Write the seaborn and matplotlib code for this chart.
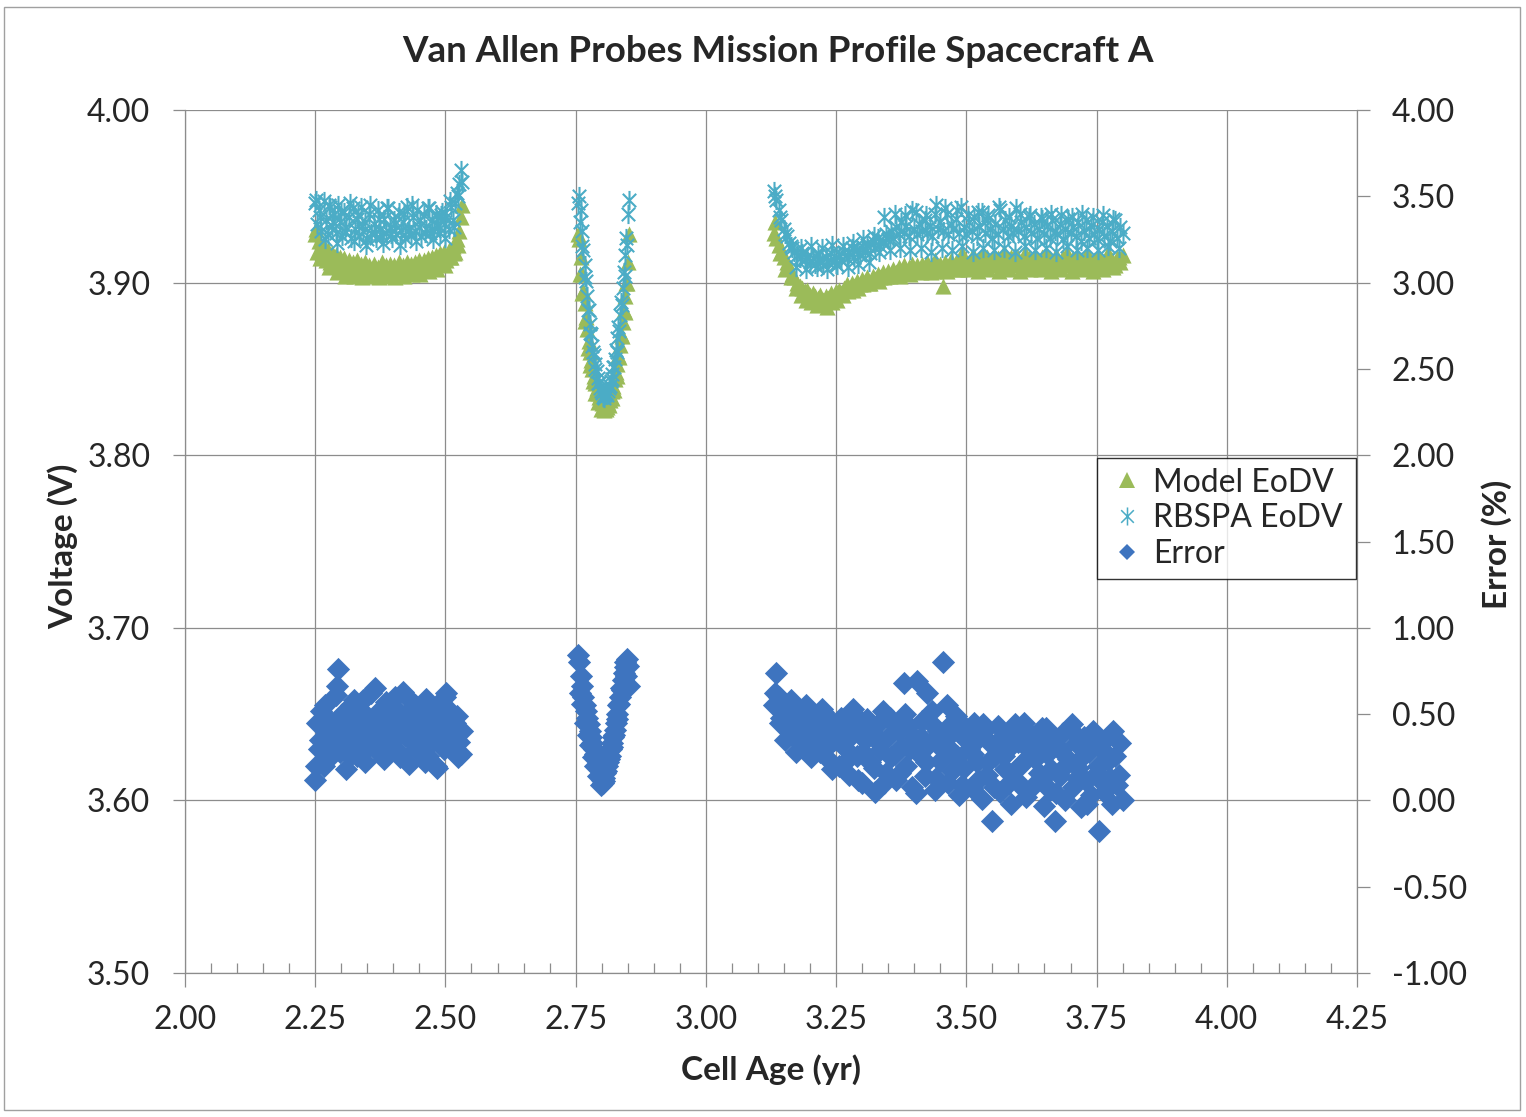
import matplotlib
matplotlib.use("Agg")
import matplotlib.pyplot as plt
from matplotlib.path import Path
from matplotlib.patches import Rectangle
from matplotlib.lines import Line2D
from matplotlib.ticker import MultipleLocator, FormatStrFormatter
import pandas as pd
import seaborn as sns

# ---- data read off the chart: cell age (yr), model / measured EoDV (V), error (%)
# first block, ~2.25-2.53 yr
age_seg1 = [2.250, 2.254, 2.258, 2.262, 2.266, 2.270, 2.274, 2.278, 2.282, 2.286,
            2.290, 2.294, 2.298, 2.302, 2.306, 2.310, 2.314, 2.318, 2.322, 2.326,
            2.330, 2.334, 2.338, 2.342, 2.346, 2.350, 2.354, 2.358, 2.362, 2.366,
            2.370, 2.374, 2.378, 2.382, 2.386, 2.390, 2.394, 2.398, 2.402, 2.406,
            2.410, 2.414, 2.418, 2.422, 2.426, 2.430, 2.434, 2.438, 2.442, 2.446,
            2.450, 2.454, 2.458, 2.462, 2.466, 2.470, 2.474, 2.478, 2.482, 2.486,
            2.490, 2.494, 2.498, 2.502, 2.506, 2.510, 2.514, 2.518, 2.522, 2.526,
            2.530]
model_seg1 = [3.928, 3.918, 3.924, 3.915, 3.921, 3.913, 3.919, 3.912, 3.917, 3.911,
              3.916, 3.910, 3.915, 3.909, 3.914, 3.908, 3.913, 3.907, 3.912, 3.907,
              3.913, 3.906, 3.911, 3.906, 3.912, 3.905, 3.910, 3.906, 3.911, 3.905,
              3.909, 3.906, 3.912, 3.905, 3.910, 3.906, 3.911, 3.905, 3.910, 3.906,
              3.912, 3.906, 3.910, 3.907, 3.912, 3.906, 3.911, 3.907, 3.912, 3.907,
              3.913, 3.908, 3.913, 3.909, 3.914, 3.909, 3.915, 3.910, 3.916, 3.911,
              3.917, 3.912, 3.918, 3.913, 3.919, 3.915, 3.921, 3.918, 3.925, 3.930,
              3.938]
rbspa_seg1 = [3.946, 3.934, 3.942, 3.930, 3.947, 3.936, 3.928, 3.944, 3.933, 3.940,
              3.929, 3.945, 3.935, 3.927, 3.941, 3.932, 3.938, 3.926, 3.943, 3.931,
              3.937, 3.927, 3.944, 3.930, 3.935, 3.925, 3.940, 3.929, 3.934, 3.926,
              3.942, 3.931, 3.927, 3.937, 3.929, 3.943, 3.932, 3.926, 3.936, 3.928,
              3.941, 3.930, 3.935, 3.926, 3.944, 3.931, 3.928, 3.938, 3.930, 3.942,
              3.932, 3.927, 3.939, 3.931, 3.943, 3.929, 3.936, 3.930, 3.940, 3.933,
              3.929, 3.941, 3.934, 3.938, 3.931, 3.944, 3.936, 3.946, 3.952, 3.957,
              3.965]
error_seg1 = [0.12, 0.45, 0.30, 0.52, 0.20, 0.38, 0.47, 0.25, 0.41, 0.33,
              0.61, 0.76, 0.28, 0.50, 0.36, 0.18, 0.44, 0.55, 0.31, 0.42,
              0.26, 0.49, 0.37, 0.58, 0.22, 0.45, 0.34, 0.62, 0.40, 0.29,
              0.51, 0.35, 0.46, 0.24, 0.57, 0.39, 0.30, 0.48, 0.37, 0.53,
              0.43, 0.27, 0.63, 0.38, 0.50, 0.21, 0.45, 0.34, 0.55, 0.40,
              0.31, 0.48, 0.37, 0.59, 0.26, 0.44, 0.52, 0.35, 0.20, 0.47,
              0.39, 0.56, 0.30, 0.62, 0.43, 0.51, 0.36, 0.45, 0.49, 0.34,
              0.27]
# second discharge of each day in the first block
age_seg1b = [2.252, 2.260, 2.268, 2.276, 2.284, 2.292, 2.300, 2.308, 2.316, 2.324,
             2.332, 2.340, 2.348, 2.356, 2.364, 2.372, 2.380, 2.388, 2.396, 2.404,
             2.412, 2.420, 2.428, 2.436, 2.444, 2.452, 2.460, 2.468, 2.476, 2.484,
             2.492, 2.500, 2.508, 2.516, 2.524, 2.532]
model_seg1b = [3.931, 3.914, 3.920, 3.909, 3.916, 3.906, 3.912, 3.904, 3.910, 3.904,
               3.909, 3.903, 3.908, 3.904, 3.909, 3.903, 3.908, 3.904, 3.909, 3.903,
               3.908, 3.904, 3.909, 3.905, 3.910, 3.905, 3.911, 3.907, 3.912, 3.908,
               3.914, 3.910, 3.915, 3.917, 3.922, 3.945]
rbspa_seg1b = [3.948, 3.938, 3.925, 3.945, 3.935, 3.923, 3.941, 3.930, 3.946, 3.924,
               3.939, 3.933, 3.922, 3.945, 3.929, 3.937, 3.923, 3.943, 3.928, 3.934,
               3.922, 3.940, 3.930, 3.945, 3.924, 3.936, 3.929, 3.943, 3.925, 3.934,
               3.939, 3.926, 3.947, 3.932, 3.950, 3.958]
error_seg1b = [0.20, 0.35, 0.55, 0.28, 0.43, 0.66, 0.32, 0.48, 0.26, 0.58,
               0.35, 0.52, 0.30, 0.45, 0.65, 0.28, 0.42, 0.54, 0.33, 0.60,
               0.25, 0.47, 0.36, 0.57, 0.30, 0.42, 0.22, 0.53, 0.46, 0.19,
               0.38, 0.60, 0.33, 0.48, 0.25, 0.40]

# second block, the V around 2.80 yr
age_seg2 = [2.757, 2.760, 2.762, 2.765, 2.767, 2.770, 2.772, 2.775, 2.777, 2.780,
            2.782, 2.785, 2.787, 2.790, 2.792, 2.795, 2.797, 2.800, 2.802, 2.805,
            2.807, 2.810, 2.812, 2.815, 2.817, 2.820, 2.822, 2.825, 2.827, 2.830,
            2.832, 2.835, 2.837, 2.840, 2.842, 2.845, 2.847, 2.850, 2.852]
model_seg2 = [3.925, 3.915, 3.905, 3.895, 3.888, 3.880, 3.873, 3.866, 3.860, 3.855,
              3.850, 3.846, 3.842, 3.839, 3.836, 3.834, 3.832, 3.830, 3.828, 3.828,
              3.829, 3.828, 3.830, 3.832, 3.834, 3.837, 3.840, 3.844, 3.848, 3.853,
              3.858, 3.864, 3.870, 3.877, 3.884, 3.892, 3.900, 3.912, 3.928]
rbspa_seg2 = [3.950, 3.942, 3.930, 3.919, 3.910, 3.901, 3.892, 3.884, 3.876, 3.870,
              3.863, 3.858, 3.853, 3.849, 3.845, 3.842, 3.839, 3.836, 3.834, 3.833,
              3.835, 3.835, 3.837, 3.840, 3.843, 3.847, 3.851, 3.856, 3.861, 3.868,
              3.874, 3.881, 3.889, 3.897, 3.906, 3.916, 3.926, 3.940, 3.948]
error_seg2 = [0.80, 0.72, 0.66, 0.60, 0.55, 0.52, 0.48, 0.44, 0.40, 0.37,
              0.33, 0.30, 0.27, 0.24, 0.21, 0.18, 0.15, 0.12, 0.10, 0.13,
              0.16, 0.20, 0.22, 0.26, 0.30, 0.33, 0.37, 0.41, 0.45, 0.50,
              0.55, 0.60, 0.65, 0.70, 0.74, 0.80, 0.72, 0.78, 0.66]
age_seg2b = [2.755, 2.759, 2.763, 2.768, 2.773, 2.778, 2.783, 2.788, 2.793, 2.798,
             2.804, 2.809, 2.814, 2.819, 2.824, 2.829, 2.834, 2.839, 2.844, 2.849]
model_seg2b = [3.928, 3.905, 3.894, 3.878, 3.862, 3.852, 3.843, 3.836, 3.831, 3.827,
               3.826, 3.827, 3.829, 3.833, 3.838, 3.846, 3.857, 3.869, 3.883, 3.900]
rbspa_seg2b = [3.946, 3.935, 3.921, 3.903, 3.884, 3.871, 3.860, 3.850, 3.842, 3.837,
               3.835, 3.836, 3.839, 3.844, 3.851, 3.860, 3.872, 3.887, 3.904, 3.922]
error_seg2b = [0.84, 0.62, 0.56, 0.45, 0.38, 0.32, 0.25, 0.20, 0.14, 0.09,
               0.11, 0.17, 0.24, 0.31, 0.38, 0.47, 0.56, 0.64, 0.77, 0.82]

# third block, ~3.13-3.80 yr
age_seg3 = [3.130, 3.135, 3.140, 3.145, 3.150,
            3.155, 3.160, 3.165, 3.170, 3.175, 3.180, 3.185, 3.190, 3.195, 3.200,
            3.205, 3.210, 3.215, 3.220, 3.225, 3.230, 3.235, 3.240, 3.245, 3.250,
            3.255, 3.260, 3.265, 3.270, 3.275, 3.280, 3.285, 3.290, 3.295, 3.300,
            3.305, 3.310, 3.315, 3.320, 3.325, 3.330, 3.335, 3.340, 3.345, 3.350,
            3.355, 3.360, 3.365, 3.370, 3.375, 3.380, 3.385, 3.390, 3.395, 3.400,
            3.405, 3.410, 3.415, 3.420, 3.425, 3.430, 3.435, 3.440, 3.445, 3.450,
            3.455, 3.460, 3.465, 3.470, 3.475, 3.480, 3.485, 3.490, 3.495, 3.500,
            3.505, 3.510, 3.515, 3.520, 3.525, 3.530, 3.535, 3.540, 3.545, 3.550,
            3.555, 3.560, 3.565, 3.570, 3.575, 3.580, 3.585, 3.590, 3.595, 3.600,
            3.605, 3.610, 3.615, 3.620, 3.625, 3.630, 3.635, 3.640, 3.645, 3.650,
            3.655, 3.660, 3.665, 3.670, 3.675, 3.680, 3.685, 3.690, 3.695, 3.700,
            3.705, 3.710, 3.715, 3.720, 3.725, 3.730, 3.735, 3.740, 3.745, 3.750,
            3.755, 3.760, 3.765, 3.770, 3.775, 3.780, 3.785, 3.790, 3.795, 3.800]
model_seg3 = [3.929, 3.926, 3.922, 3.918, 3.915,
              3.912, 3.909, 3.905, 3.903, 3.900, 3.898, 3.897, 3.895, 3.896, 3.893,
              3.894, 3.892, 3.891, 3.893, 3.890, 3.892, 3.891, 3.894, 3.892, 3.895,
              3.896, 3.894, 3.897, 3.899, 3.897, 3.900, 3.898, 3.901, 3.899, 3.902,
              3.901, 3.903, 3.900, 3.904, 3.902, 3.905, 3.903, 3.906, 3.904, 3.907,
              3.905, 3.908, 3.906, 3.909, 3.907, 3.910, 3.906, 3.909, 3.911, 3.908,
              3.910, 3.907, 3.911, 3.909, 3.912, 3.908, 3.910, 3.913, 3.909, 3.911,
              3.898, 3.912, 3.909, 3.913, 3.910, 3.912, 3.908, 3.914, 3.911, 3.909,
              3.912, 3.910, 3.914, 3.911, 3.913, 3.909, 3.912, 3.915, 3.911, 3.913,
              3.910, 3.914, 3.912, 3.909, 3.913, 3.911, 3.915, 3.912, 3.910, 3.914,
              3.911, 3.913, 3.910, 3.914, 3.912, 3.909, 3.913, 3.911, 3.915, 3.912,
              3.910, 3.914, 3.911, 3.913, 3.909, 3.912, 3.915, 3.911, 3.913, 3.910,
              3.914, 3.912, 3.910, 3.913, 3.911, 3.915, 3.912, 3.909, 3.913, 3.911,
              3.914, 3.910, 3.912, 3.915, 3.911, 3.913, 3.910, 3.914, 3.912, 3.916]
rbspa_seg3 = [3.953, 3.948, 3.942, 3.936, 3.931,
              3.927, 3.923, 3.920, 3.918, 3.916, 3.914, 3.917, 3.913, 3.915, 3.912,
              3.914, 3.911, 3.916, 3.913, 3.910, 3.915, 3.912, 3.917, 3.913, 3.911,
              3.916, 3.913, 3.918, 3.914, 3.917, 3.920, 3.915, 3.919, 3.916, 3.921,
              3.918, 3.922, 3.917, 3.924, 3.920, 3.926, 3.921, 3.924, 3.928, 3.925,
              3.930, 3.926, 3.932, 3.928, 3.935, 3.929, 3.933, 3.927, 3.942, 3.931,
              3.928, 3.934, 3.930, 3.936, 3.929, 3.933, 3.927, 3.940, 3.931, 3.935,
              3.930, 3.943, 3.928, 3.934, 3.931, 3.937, 3.929, 3.944, 3.932, 3.928,
              3.935, 3.930, 3.938, 3.927, 3.933, 3.941, 3.929, 3.936, 3.931, 3.926,
              3.934, 3.928, 3.942, 3.931, 3.936, 3.927, 3.933, 3.929, 3.943, 3.930,
              3.935, 3.927, 3.932, 3.938, 3.929, 3.934, 3.926, 3.931, 3.937, 3.928,
              3.933, 3.926, 3.936, 3.930, 3.928, 3.934, 3.925, 3.931, 3.937, 3.929,
              3.932, 3.927, 3.935, 3.924, 3.930, 3.936, 3.926, 3.933, 3.928, 3.925,
              3.931, 3.935, 3.927, 3.933, 3.924, 3.930, 3.936, 3.926, 3.932, 3.929]
error_seg3 = [0.55, 0.74, 0.60, 0.48, 0.56,
              0.42, 0.53, 0.38, 0.50, 0.45, 0.33, 0.52, 0.40, 0.47, 0.30,
              0.49, 0.36, 0.44, 0.28, 0.51, 0.39, 0.24, 0.46, 0.35, 0.42,
              0.20, 0.48, 0.31, 0.43, 0.15, 0.38, 0.50, 0.26, 0.41, 0.10,
              0.35, 0.47, 0.22, 0.39, 0.05, 0.44, 0.29, 0.52, 0.16, 0.37,
              0.25, 0.45, 0.12, 0.40, 0.31, 0.68, 0.20, 0.43, 0.08, 0.36,
              0.69, 0.27, 0.46, 0.14, 0.62, 0.33, 0.52, 0.06, 0.40, 0.23,
              0.80, 0.35, 0.10, 0.44, 0.28, 0.49, 0.03, 0.38, 0.19, 0.42,
              0.30, 0.07, 0.45, 0.22, 0.36, 0.01, 0.41, 0.15, 0.33, -0.12,
              0.26, 0.43, 0.05, 0.37, 0.18, 0.30, -0.02, 0.40, 0.12, 0.34,
              0.21, 0.45, 0.02, 0.29, 0.38, 0.09, 0.33, 0.16, 0.42, -0.03,
              0.27, 0.06, 0.36, -0.12, 0.31, 0.14, 0.39, 0.00, 0.24, 0.41,
              0.08, 0.33, 0.19, -0.04, 0.37, 0.11, 0.28, 0.03, 0.35, 0.16,
              -0.18, 0.30, 0.05, 0.36, 0.13, -0.02, 0.26, 0.09, 0.33, 0.00]
age_seg3b = [3.1325, 3.1425, 3.1525, 3.1625, 3.1725, 3.1825, 3.1925, 3.2025, 3.2125, 3.2225,
             3.2325, 3.2425, 3.2525, 3.2625, 3.2725, 3.2825, 3.2925, 3.3025, 3.3125, 3.3225,
             3.3325, 3.3425, 3.3525, 3.3625, 3.3725, 3.3825, 3.3925, 3.4025, 3.4125, 3.4225,
             3.4325, 3.4425, 3.4525, 3.4625, 3.4725, 3.4825, 3.4925, 3.5025, 3.5125, 3.5225,
             3.5325, 3.5425, 3.5525, 3.5625, 3.5725, 3.5825, 3.5925, 3.6025, 3.6125, 3.6225,
             3.6325, 3.6425, 3.6525, 3.6625, 3.6725, 3.6825, 3.6925, 3.7025, 3.7125, 3.7225,
             3.7325, 3.7425, 3.7525, 3.7625, 3.7725, 3.7825, 3.7925]
model_seg3b = [3.935, 3.917, 3.908, 3.903, 3.897, 3.893, 3.890, 3.889, 3.887, 3.888,
               3.886, 3.889, 3.890, 3.893, 3.895, 3.896, 3.897, 3.899, 3.900, 3.902,
               3.901, 3.903, 3.904, 3.905, 3.904, 3.906, 3.905, 3.907, 3.906, 3.908,
               3.906, 3.907, 3.908, 3.907, 3.909, 3.908, 3.917, 3.908, 3.916, 3.907,
               3.917, 3.908, 3.916, 3.907, 3.918, 3.908, 3.916, 3.907, 3.917, 3.908,
               3.916, 3.908, 3.917, 3.907, 3.916, 3.908, 3.917, 3.907, 3.916, 3.908,
               3.917, 3.907, 3.916, 3.908, 3.917, 3.909, 3.915]
rbspa_seg3b = [3.950, 3.938, 3.928, 3.921, 3.909, 3.920, 3.908, 3.921, 3.909, 3.920,
               3.908, 3.922, 3.910, 3.921, 3.909, 3.923, 3.911, 3.925, 3.912, 3.927,
               3.918, 3.938, 3.919, 3.940, 3.920, 3.939, 3.919, 3.941, 3.920, 3.939,
               3.918, 3.945, 3.920, 3.940, 3.919, 3.942, 3.921, 3.939, 3.918, 3.941,
               3.920, 3.939, 3.919, 3.944, 3.920, 3.938, 3.918, 3.940, 3.921, 3.939,
               3.919, 3.938, 3.920, 3.940, 3.918, 3.939, 3.921, 3.938, 3.919, 3.940,
               3.920, 3.938, 3.919, 3.939, 3.921, 3.937, 3.920]
error_seg3b = [0.62, 0.45, 0.35, 0.58, 0.28, 0.44, 0.55, 0.25, 0.40, 0.53,
               0.31, 0.18, 0.45, 0.33, 0.24, 0.53, 0.12, 0.28, 0.44, 0.19,
               0.33, 0.10, 0.48, 0.27, 0.16, 0.50, 0.30, 0.04, 0.37, 0.22,
               0.45, 0.13, 0.30, 0.55, 0.17, 0.26, 0.09, 0.40, 0.27, 0.12,
               0.44, 0.22, 0.08, 0.35, 0.26, 0.10, 0.44, 0.20, 0.06, 0.31,
               0.24, 0.12, 0.42, 0.18, 0.04, 0.29, 0.21, 0.44, 0.13, 0.25,
               -0.02, 0.40, 0.20, 0.10, 0.23, 0.40, 0.15]

df = pd.DataFrame({
    'age': age_seg1 + age_seg1b + age_seg2 + age_seg2b + age_seg3 + age_seg3b,
    'model': model_seg1 + model_seg1b + model_seg2 + model_seg2b + model_seg3 + model_seg3b,
    'rbspa': rbspa_seg1 + rbspa_seg1b + rbspa_seg2 + rbspa_seg2b + rbspa_seg3 + rbspa_seg3b,
    'error': error_seg1 + error_seg1b + error_seg2 + error_seg2b + error_seg3 + error_seg3b,
})

green = '#9BBB59'
cyan = '#4BACC6'
blue = '#3E74BF'
grid_col = '#8c8c8c'

sns.set_style('white')
plt.rcParams['font.family'] = ['Lato', 'DejaVu Sans']
plt.rcParams['axes.unicode_minus'] = False

# asterisk marker like excel's (x plus vertical bar)
star = Path([(0, -1), (0, 1), (-0.7, -0.7), (0.7, 0.7), (-0.7, 0.7), (0.7, -0.7)],
            [Path.MOVETO, Path.LINETO] * 3)

fig = plt.figure(figsize=(15.26, 11.17), dpi=100)
ax = fig.add_axes([185/1526, 1-973/1117, (1357-185)/1526, (973-110)/1117])
ax2 = ax.twinx()

sns.scatterplot(data=df, x='age', y='model', ax=ax, marker='^', color=green,
                s=135, linewidth=0, edgecolor=green, zorder=3)
sns.scatterplot(data=df, x='age', y='rbspa', ax=ax, marker=star, color=cyan,
                s=190, linewidth=1.5, edgecolor=cyan, zorder=4)
sns.scatterplot(data=df, x='age', y='error', ax=ax2, marker='D', color=blue,
                s=140, linewidth=0, edgecolor=blue, zorder=3)

ax.set_xlim(2.0, 4.25)
ax.set_ylim(3.5, 4.0)
ax2.set_ylim(-1.0, 4.0)
ax.xaxis.set_major_locator(MultipleLocator(0.25))
ax.xaxis.set_minor_locator(MultipleLocator(0.05))
ax.yaxis.set_major_locator(MultipleLocator(0.1))
ax2.yaxis.set_major_locator(MultipleLocator(0.5))
for a in (ax.xaxis, ax.yaxis, ax2.yaxis):
    a.set_major_formatter(FormatStrFormatter('%.2f'))

ax.grid(True, which='major', color=grid_col, linewidth=0.9)
ax.set_axisbelow(True)
ax2.grid(False)
ax.set_xlabel('')
ax.set_ylabel('')
ax2.set_ylabel('')

ax.tick_params(axis='x', which='major', direction='out', length=10, width=0.9,
               color=grid_col, labelsize=23, pad=13, bottom=True)
ax.tick_params(axis='x', which='minor', direction='in', length=7, width=0.9,
               color=grid_col, bottom=True)
ax.tick_params(axis='y', which='major', direction='out', length=9, width=0.9,
               color=grid_col, labelsize=23, pad=16, left=True)
ax2.tick_params(axis='y', which='major', direction='out', length=9, width=0.9,
                color=grid_col, labelsize=23, pad=16, right=True)

for s in ('top', 'right'):
    ax.spines[s].set_visible(False)
for s in ('left', 'bottom'):
    ax.spines[s].set_color(grid_col)
    ax.spines[s].set_linewidth(0.9)
for s in ('top', 'left', 'bottom'):
    ax2.spines[s].set_visible(False)
ax2.spines['right'].set_color(grid_col)
ax2.spines['right'].set_linewidth(0.9)

fig.text(778/1526, 1-52/1117, 'Van Allen Probes Mission Profile Spacecraft A',
         ha='center', va='center', fontsize=26.5, fontweight='bold')
fig.text(771/1526, 1-1070/1117, 'Cell Age (yr)', ha='center', va='center',
         fontsize=24, fontweight='bold')
fig.text(63/1526, 1-546/1117, 'Voltage (V)', ha='center', va='center',
         rotation=90, fontsize=24, fontweight='bold')
fig.text(1497/1526, 1-544/1117, 'Error (%)', ha='center', va='center',
         rotation=90, fontsize=24, fontweight='bold')

handles = [
    Line2D([], [], marker='^', ls='none', color=green, markersize=11, markeredgewidth=0),
    Line2D([], [], marker=star, ls='none', color=cyan, markersize=13, markeredgewidth=1.1),
    Line2D([], [], marker='D', ls='none', color=blue, markersize=8, markeredgewidth=0),
]
leg = fig.legend(handles, ['Model EoDV', 'RBSPA EoDV', 'Error'],
                 loc='upper left',
                 bbox_to_anchor=(1097/1526, 1-579/1117, (1356-1097)/1526, 121/1117),
                 mode='expand', frameon=True, fancybox=False, fontsize=23,
                 borderaxespad=0, handlelength=1.3, handletextpad=0.15,
                 labelspacing=0.18, borderpad=0.3)
leg.get_frame().set_edgecolor('black')
leg.get_frame().set_linewidth(1.0)

fig.patches.append(Rectangle((4/1526, 7/1117), 1516/1526, 1103/1117,
                             transform=fig.transFigure, fill=False,
                             edgecolor='#a0a0a0', linewidth=1.0))

fig.savefig('out.png', dpi=100)
